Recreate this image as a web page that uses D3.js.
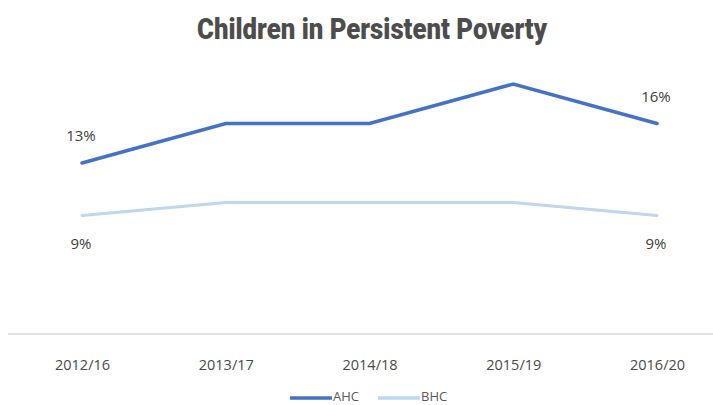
<!DOCTYPE html>
<html><head><meta charset="utf-8">
<script src="https://cdn.jsdelivr.net/npm/d3@7"></script>
<style>body{margin:0;background:#fff}svg{display:block}</style>
</head><body>
<script>
const categories = ["2012/16","2013/17","2014/18","2015/19","2016/20"];
const ahc = [13,16,16,19,16];
const bhc = [9,10,10,10,9];
const seriesNames = ["AHC","BHC"];

const W=713,H=405;
const svg=d3.select("body").append("svg").attr("width",W).attr("height",H);
const x=d3.scalePoint().domain(categories).range([82,657]);
const y=d3.scaleLinear().domain([0,19]).range([334,84]);
const colors={AHC:"#4472C4",BHC:"#BDD7EE"};
const font="'Open Sans', 'Liberation Sans', sans-serif";

svg.append("text").attr("x",372).attr("y",39).attr("text-anchor","middle")
  .attr("font-family","Roboto, sans-serif").attr("font-weight","900").attr("font-size",29)
  .attr("fill","#4d4d4d").attr("textLength",350).attr("lengthAdjust","spacingAndGlyphs")
  .text("Children in Persistent Poverty");

const xAxis=svg.append("g").attr("transform","translate(0,334)")
  .call(d3.axisBottom(x).tickSize(0).tickPadding(26));
xAxis.select(".domain").attr("d","M8,0H713").attr("stroke","#d9d9d9").attr("stroke-width",1.5);
xAxis.selectAll("text").attr("font-family",font).attr("font-size",14.5).attr("fill","#4a4a4a");

const line=d3.line().x((d,i)=>x(categories[i])).y(d=>y(d));
[["BHC",bhc,3],["AHC",ahc,3.5]].forEach(([n,v,w])=>{
  svg.append("path").datum(v).attr("d",line).attr("fill","none")
    .attr("stroke",colors[n]).attr("stroke-width",w).attr("stroke-linecap","round");
});

const lab=(cat,val,dy)=>svg.append("text").attr("x",x(cat)-1).attr("y",y(val)+dy)
  .attr("text-anchor","middle").attr("font-family",font).attr("font-size",15).attr("fill","#404040").text(val+"%");
lab(categories[0],ahc[0],-22);
lab(categories[4],ahc[4],-21);
lab(categories[0],bhc[0],33);
lab(categories[4],bhc[4],33);

const leg=[{n:"AHC",x:290},{n:"BHC",x:378}];
leg.forEach(l=>{
  svg.append("line").attr("x1",l.x).attr("x2",l.x+42).attr("y1",398).attr("y2",398)
    .attr("stroke",colors[l.n]).attr("stroke-width",3.5);
  svg.append("text").attr("x",l.x+43).attr("y",401).attr("font-family",font).attr("font-size",13)
    .attr("fill","#595959").text(l.n);
});
</script>
</body></html>
